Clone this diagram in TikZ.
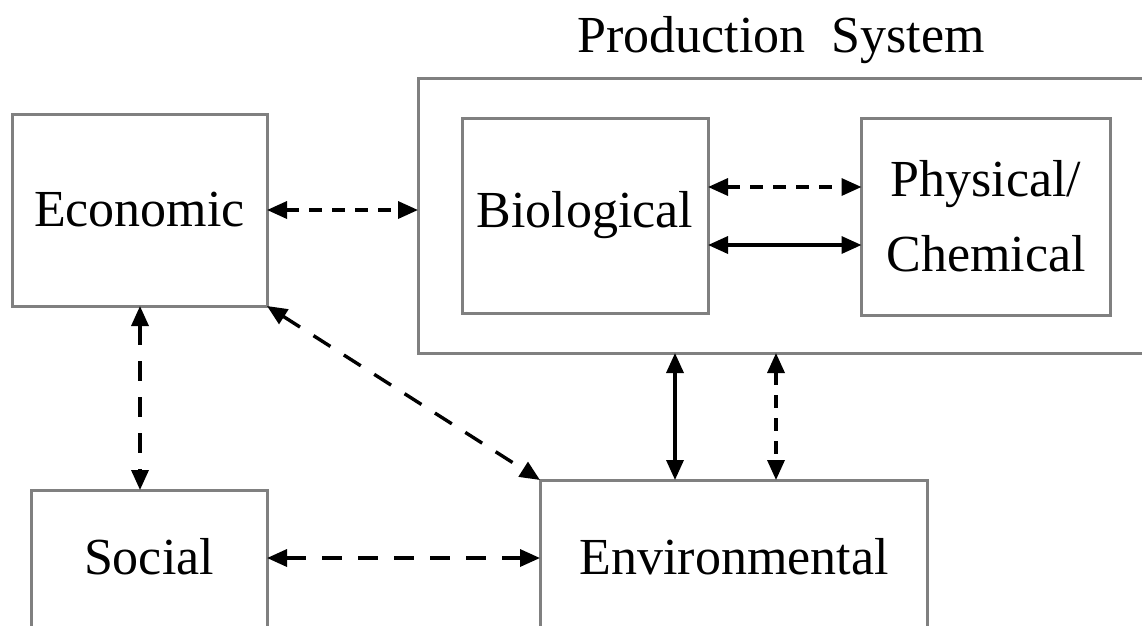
\documentclass[tikz,border=0pt]{standalone}
\usepackage{fontspec}
\setmainfont{Liberation Serif}
\usetikzlibrary{arrows.meta}
\begin{document}
\begin{tikzpicture}[x=1pt,y=-1pt,
  box/.style={draw=black!50,line width=3pt,rectangle,inner sep=0pt,outer sep=0pt,
    align=center,font=\fontsize{52}{75}\selectfont},
  lbl/.style={inner sep=0pt,font=\fontsize{52}{62}\selectfont},
  link/.style={line width=3.4pt,{Triangle[length=20pt,width=17pt]}-{Triangle[length=20pt,width=17pt]}},
  dsh/.style={link,dash pattern=on 20pt off 16pt},
  dshs/.style={link,dash pattern=on 13pt off 10pt}]
\useasboundingbox (0,0) rectangle (1142,625);
\clip (0,0) rectangle (1142,625);
\fill[white] (0,0) rectangle (1142,625);
\node[box,minimum width=255pt,minimum height=192pt] (econ) at (139.5,210) {Economic};
\node[box,minimum width=752pt,minimum height=275pt] (prod) at (794,215.5) {};
\node[lbl] (title) at (781,40) {Production\ \ System};
\node[box,minimum width=246pt,minimum height=195pt] (bio) at (585,215.5) {Biological};
\node[box,minimum width=249pt,minimum height=197pt] (phys) at (986,216.5) {Physical/\\Chemical};
\node[box,minimum width=236pt,minimum height=150pt] (soc) at (149,565) {};
\node[lbl] (soct) at (149,557) {Social};
\node[box,minimum width=387pt,minimum height=160pt] (env) at (733.5,560) {};
\node[lbl] (envt) at (734,557) {Environmental};
\coordinate (ya) at (0,187);
\coordinate (yb) at (0,245);
\coordinate (yc) at (0,558);
\coordinate (xa) at (675,0);
\coordinate (xb) at (776,0);
\coordinate (xc) at (140,0);
\draw[dshs] (econ.east) -- (econ.east -| prod.west);
\draw[dshs] (bio.east |- ya) -- (phys.west |- ya);
\draw[link] (bio.east |- yb) -- (phys.west |- yb);
\draw[dsh] (xc |- econ.south) -- (xc |- soc.north);
\draw[dsh] (econ.south east) -- (env.north west);
\draw[dsh] (soc.east |- yc) -- (env.west |- yc);
\draw[link] (xa |- prod.south) -- (xa |- env.north);
\draw[dshs] (xb |- prod.south) -- (xb |- env.north);
\end{tikzpicture}
\end{document}
